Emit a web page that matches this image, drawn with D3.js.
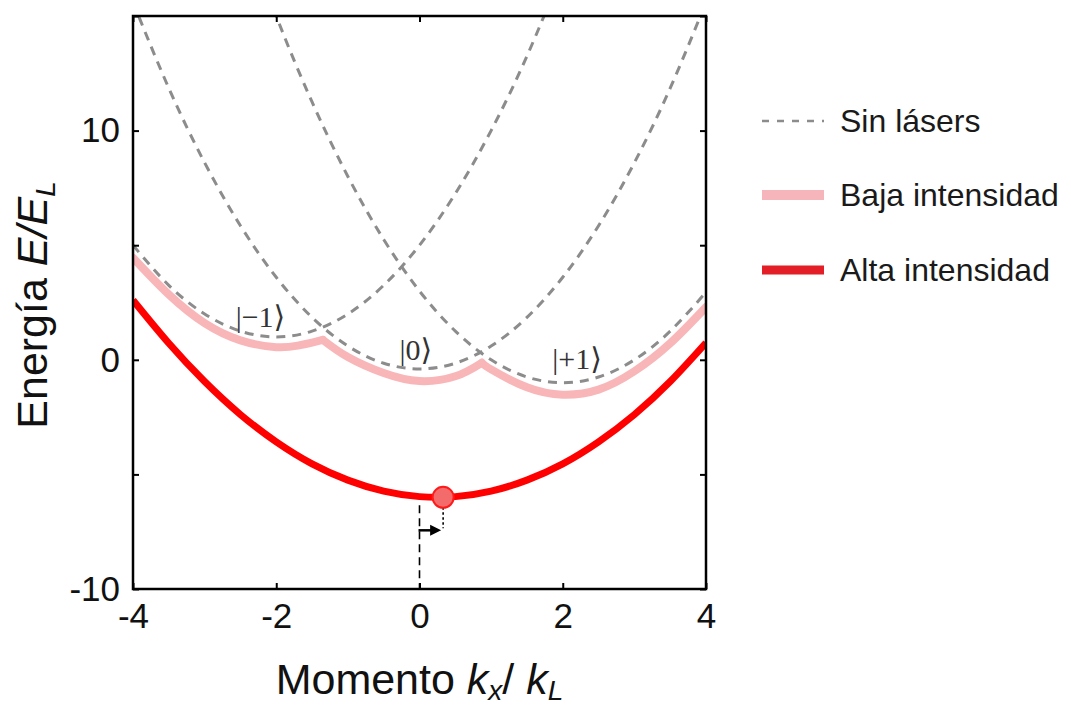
<!DOCTYPE html>
<html>
<head>
<meta charset="utf-8">
<script src="https://cdn.jsdelivr.net/npm/d3@7"></script>
<style>
  body { margin: 0; background: #fff; }
  svg { display: block; font-family: "Liberation Sans", Arial, sans-serif; }
</style>
</head>
<body>
<div id="chart"></div>
<script>
// momentum grid (k_x / k_L) and energies (E / E_L)
const kFull = [-4, -3.5, -3, -2.5, -2, -1.5, -1, -0.5, 0, 0.5, 1, 1.5, 2, 2.5, 3, 3.5, 4];

// bare states, no lasers (dashed)
const kMinus1 = [-4, -3.5, -3, -2.5, -2, -1.5, -1, -0.5, 0, 0.5, 1, 1.5, 2];
const eMinus1 = [5, 3.25, 2, 1.25, 1, 1.25, 2, 3.25, 5, 7.25, 10, 13.25, 17];
const eZero = [15.6, 11.85, 8.6, 5.85, 3.6, 1.85, 0.6, -0.15, -0.4, -0.15, 0.6, 1.85, 3.6, 5.85, 8.6, 11.85, 15.6];
const kPlus1 = [-2.5, -2, -1.5, -1, -0.5, 0, 0.5, 1, 1.5, 2, 2.5, 3, 3.5, 4];
const ePlus1 = [19.25, 15, 11.25, 8, 5.25, 3, 1.25, 0, -0.75, -1, -0.75, 0, 1.25, 2.95];

// low intensity: lowest band, three branches meeting at the cusps
const kLowA = [-4, -3.5, -3, -2.5, -2, -1.7, -1.5, -1.35];
const eLowA = [4.45, 2.85, 1.6, 0.85, 0.55, 0.62, 0.75, 0.87];
const kLowB = [-1.35, -1, -0.5, 0, 0.5, 0.87];
const eLowB = [0.87, 0.12, -0.58, -0.93, -0.72, -0.13];
const kLowC = [0.87, 1, 1.5, 2, 2.5, 3, 3.5, 4];
const eLowC = [-0.13, -0.42, -1.2, -1.52, -1.3, -0.5, 0.72, 2.3];

// high intensity
const eHigh = [2.6, 0.72, -0.95, -2.39, -3.58, -4.54, -5.25, -5.73, -5.97, -5.97, -5.73, -5.25, -4.54, -3.58, -2.39, -0.95, 0.74];

// condensate position
const dotK = 0.33, dotE = -6;

const xTicks = [-4, -2, 0, 2, 4];
const yTicks = [-10, -5, 0, 5, 10, 15];
const yLabels = [-10, 0, 10];

const width = 1071, height = 707;
const x = d3.scaleLinear().domain([-4, 4]).range([133, 706]);
const y = d3.scaleLinear().domain([-10, 15]).range([589, 16]);

const svg = d3.select('#chart').append('svg')
  .attr('width', width)
  .attr('height', height);

svg.append('defs').append('clipPath').attr('id', 'plotClip')
  .append('rect')
  .attr('x', x(-4)).attr('y', y(15))
  .attr('width', x(4) - x(-4)).attr('height', y(-10) - y(15));

const zip = (ks, es) => ks.map((k, i) => [k, es[i]]);
const line = d3.line()
  .x((d) => x(d[0]))
  .y((d) => y(d[1]))
  .curve(d3.curveNatural);

const g = svg.append('g').attr('clip-path', 'url(#plotClip)');

// pink band
[zip(kLowA, eLowA), zip(kLowB, eLowB), zip(kLowC, eLowC)].forEach((seg) => {
  g.append('path')
    .attr('d', line(seg))
    .attr('fill', 'none')
    .attr('stroke', '#f9b6b9')
    .attr('stroke-width', 8)
    .attr('stroke-linecap', 'round');
});

// dashed bare parabolas
[zip(kMinus1, eMinus1), zip(kFull, eZero), zip(kPlus1, ePlus1)].forEach((seg) => {
  g.append('path')
    .attr('d', line(seg))
    .attr('fill', 'none')
    .attr('stroke', '#8c8c8c')
    .attr('stroke-width', 3)
    .attr('stroke-dasharray', '9,7');
});

// red band
g.append('path')
  .attr('d', line(zip(kFull, eHigh)))
  .attr('fill', 'none')
  .attr('stroke', '#ff0000')
  .attr('stroke-width', 7);

// shift marker: dashed line at k=0, dotted drop from the dot, arrow
svg.append('line')
  .attr('x1', x(0)).attr('x2', x(0))
  .attr('y1', y(dotE) + 8).attr('y2', y(-10))
  .attr('stroke', '#000').attr('stroke-width', 1.6)
  .attr('stroke-dasharray', '8,5');
svg.append('line')
  .attr('x1', x(dotK)).attr('x2', x(dotK))
  .attr('y1', y(dotE) + 10).attr('y2', y(dotE) + 31)
  .attr('stroke', '#000').attr('stroke-width', 1.6)
  .attr('stroke-dasharray', '2.5,2.5');
svg.append('line')
  .attr('x1', x(0) - 1).attr('x2', x(dotK) - 10)
  .attr('y1', y(dotE) + 33).attr('y2', y(dotE) + 33)
  .attr('stroke', '#000').attr('stroke-width', 2.5);
svg.append('path')
  .attr('d', `M${x(dotK) - 2},${y(dotE) + 33} l-11,-5.5 l0,11 z`)
  .attr('fill', '#000');

svg.append('circle')
  .attr('cx', x(dotK)).attr('cy', y(dotE))
  .attr('r', 10.5)
  .attr('fill', '#f36b6b')
  .attr('stroke', '#ff1a1a')
  .attr('stroke-width', 2);

// ket labels
const kets = [
  { t: '|\u22121\u27E9', k: -2.22, e: 1.45 },
  { t: '|0\u27E9', k: -0.05, e: -0.03 },
  { t: '|+1\u27E9', k: 2.2, e: -0.4 },
];
svg.append('g').selectAll('text')
  .data(kets)
  .join('text')
  .attr('x', (d) => x(d.k))
  .attr('y', (d) => y(d.e))
  .attr('text-anchor', 'middle')
  .attr('font-family', '"Liberation Serif", "DejaVu Serif", serif')
  .attr('font-size', 30)
  .attr('fill', '#333')
  .text((d) => d.t);

// axes, ticks pointing inward on all four sides
const fmt = (d) => String(d);
const axB = svg.append('g').attr('transform', `translate(0,${y(-10)})`)
  .call(d3.axisBottom(x).tickValues(xTicks).tickSize(-6).tickPadding(14).tickFormat(fmt));
const axT = svg.append('g').attr('transform', `translate(0,${y(15)})`)
  .call(d3.axisTop(x).tickValues(xTicks).tickSize(-6).tickFormat(''));
const axL = svg.append('g').attr('transform', `translate(${x(-4)},0)`)
  .call(d3.axisLeft(y).tickValues(yTicks).tickSize(-6).tickPadding(13)
    .tickFormat((d) => (yLabels.includes(d) ? fmt(d) : '')));
const axR = svg.append('g').attr('transform', `translate(${x(4)},0)`)
  .call(d3.axisRight(y).tickValues(yTicks).tickSize(-6).tickFormat(''));

[axB, axT, axL, axR].forEach((a) => {
  a.select('.domain').remove();
  a.selectAll('.tick line').attr('stroke', '#000').attr('stroke-width', 2);
  a.selectAll('.tick text')
    .attr('font-family', '"Liberation Sans", Arial, sans-serif')
    .attr('font-size', 35)
    .attr('fill', '#111');
});

svg.append('rect')
  .attr('x', x(-4)).attr('y', y(15))
  .attr('width', x(4) - x(-4)).attr('height', y(-10) - y(15))
  .attr('fill', 'none')
  .attr('stroke', '#000')
  .attr('stroke-width', 2.5);

// axis titles
const xt = svg.append('text')
  .attr('x', (x(-4) + x(4)) / 2)
  .attr('y', 694)
  .attr('text-anchor', 'middle')
  .attr('font-size', 43)
  .attr('fill', '#111');
xt.append('tspan').text('Momento ');
xt.append('tspan').attr('font-style', 'italic').text('k');
xt.append('tspan').attr('font-style', 'italic').attr('font-size', 28).attr('dy', 6).text('x');
xt.append('tspan').attr('dy', -6).text('/ ');
xt.append('tspan').attr('font-style', 'italic').text('k');
xt.append('tspan').attr('font-style', 'italic').attr('font-size', 28).attr('dy', 6).text('L');

const yt = svg.append('text')
  .attr('transform', 'translate(47,305) rotate(-90)')
  .attr('text-anchor', 'middle')
  .attr('font-size', 43)
  .attr('fill', '#111');
yt.append('tspan').text('Energía ');
yt.append('tspan').attr('font-style', 'italic').text('E/E');
yt.append('tspan').attr('font-style', 'italic').attr('font-size', 28).attr('dy', 8).text('L');

// legend
const legendItems = [
  { label: 'Sin lásers', color: '#8c8c8c', w: 2.5, dash: '7,8', yy: 121 },
  { label: 'Baja intensidad', color: '#f6b5ba', w: 10, dash: null, yy: 195 },
  { label: 'Alta intensidad', color: '#e41e26', w: 9, dash: null, yy: 270 },
];
const leg = svg.append('g');
leg.selectAll('line')
  .data(legendItems)
  .join('line')
  .attr('x1', 762).attr('x2', 824)
  .attr('y1', (d) => d.yy).attr('y2', (d) => d.yy)
  .attr('stroke', (d) => d.color)
  .attr('stroke-width', (d) => d.w)
  .attr('stroke-dasharray', (d) => d.dash);
leg.selectAll('text')
  .data(legendItems)
  .join('text')
  .attr('x', 840)
  .attr('y', (d) => d.yy + 11)
  .attr('font-size', 32)
  .attr('fill', '#1a1a1a')
  .text((d) => d.label);
</script>
</body>
</html>
